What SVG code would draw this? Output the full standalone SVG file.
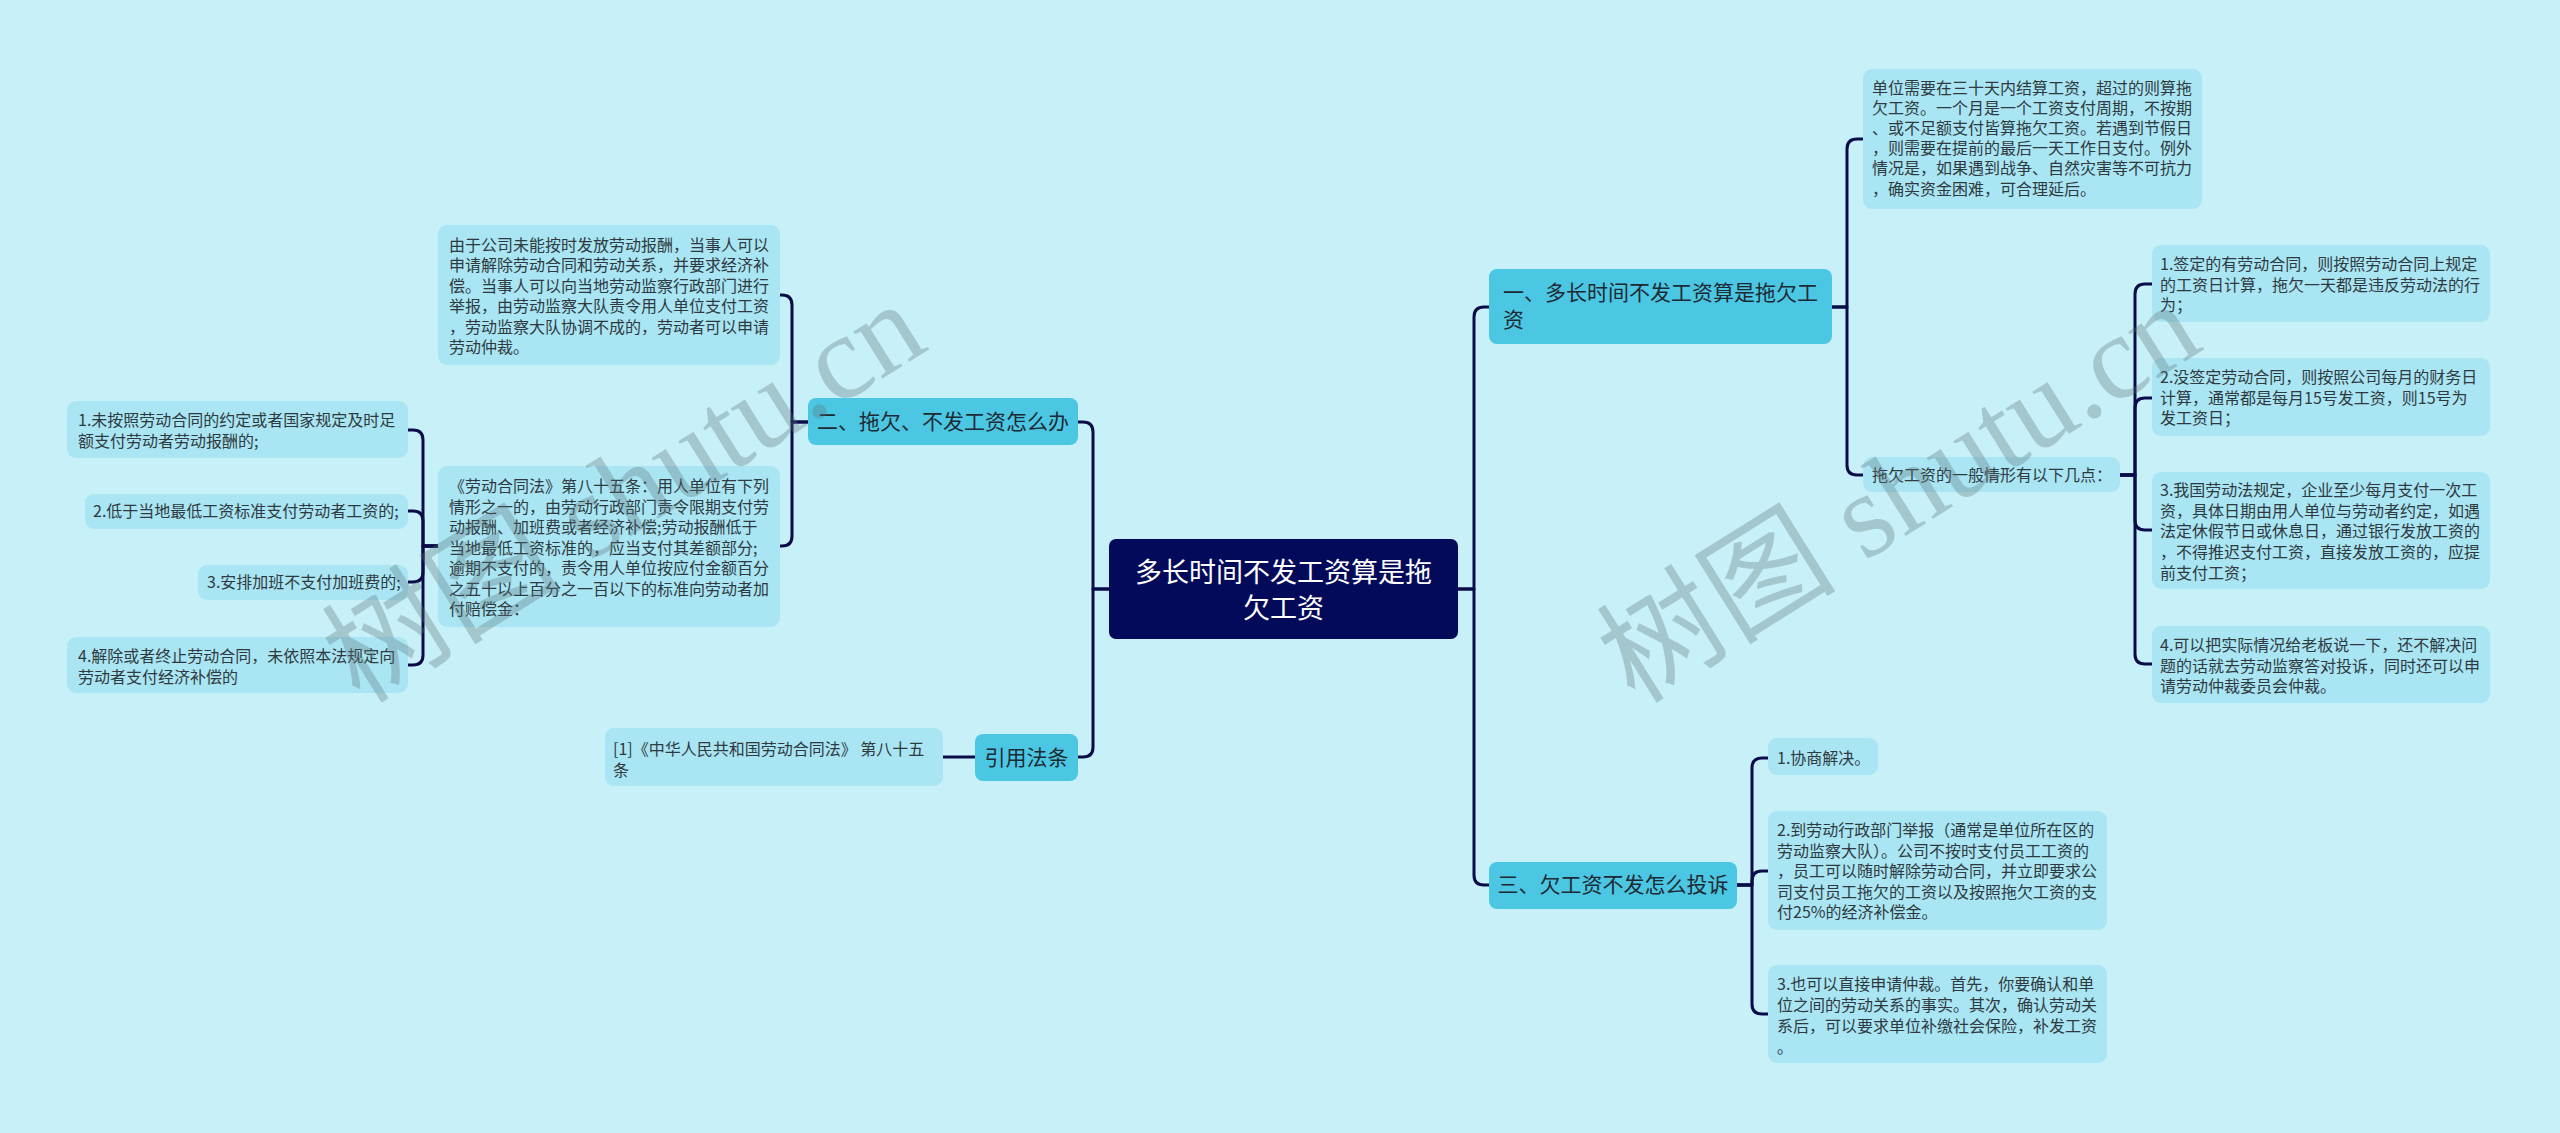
<svg xmlns="http://www.w3.org/2000/svg" width="2560" height="1133" viewBox="0 0 2560 1133">
<style>
.bg{fill:#c8f0f8}
.root{fill:#040a5a}
.l1{fill:#4bc7e3}
.l2{fill:#a9e5f3}
.rt{font-family:"Noto Sans CJK SC","Noto Sans",sans-serif;font-size:27px;fill:#ffffff}
.t1{font-family:"Noto Sans CJK SC","Noto Sans",sans-serif;font-size:21px;fill:#1e2a33}
.t2{font-family:"Noto Sans CJK SC","Noto Sans",sans-serif;font-size:16px;fill:#2f3a40}
.c{fill:none;stroke:#0a0c4a;stroke-width:3;stroke-linecap:round;stroke-linejoin:round}
.wm{font-family:"Liberation Serif","Noto Sans CJK SC",serif;font-size:120px;fill:#5a7378;opacity:0.32}
</style>
<rect class="bg" x="0" y="0" width="2560" height="1133"/>
<g id="connectors">
<path class="c" d="M1109,589 H1093 V432 Q1093,422 1083,422 H1078"/>
<path class="c" d="M1109,589 H1093 V747 Q1093,757 1083,757 H1078"/>
<path class="c" d="M1458,589 H1474 V317 Q1474,307 1484,307 H1489"/>
<path class="c" d="M1458,589 H1474 V875 Q1474,885 1484,885 H1489"/>
<path class="c" d="M1832,307 H1847 V149 Q1847,139 1857,139 H1863"/>
<path class="c" d="M1832,307 H1847 V465 Q1847,475 1857,475 H1863"/>
<path class="c" d="M2120,475 H2135 V294 Q2135,284 2145,284 H2152"/>
<path class="c" d="M2120,475 H2135 V408 Q2135,398 2145,398 H2152"/>
<path class="c" d="M2120,475 H2135 V520 Q2135,530 2145,530 H2152"/>
<path class="c" d="M2120,475 H2135 V654 Q2135,664 2145,664 H2152"/>
<path class="c" d="M1737,885 H1752 V768 Q1752,758 1762,758 H1768"/>
<path class="c" d="M1737,885 H1752 V881 Q1752,871 1762,871 H1768"/>
<path class="c" d="M1737,885 H1752 V1004 Q1752,1014 1762,1014 H1768"/>
<path class="c" d="M808,422 H792 V305 Q792,295 782,295 H780"/>
<path class="c" d="M808,422 H792 V536 Q792,546 782,546 H780"/>
<path class="c" d="M438,546 H423 V440 Q423,430 413,430 H408"/>
<path class="c" d="M438,546 H423 V521 Q423,511 413,511 H408"/>
<path class="c" d="M438,546 H423 V572 Q423,582 413,582 H408"/>
<path class="c" d="M438,546 H423 V655 Q423,665 413,665 H408"/>
<path class="c" d="M975,757 H943"/>
</g>
<g id="root">
<rect class="root" x="1109" y="539" width="349" height="100" rx="7"/>
<text class="rt" x="1283.5" y="582" text-anchor="middle">多长时间不发工资算是拖</text>
<text class="rt" x="1283.5" y="618" text-anchor="middle">欠工资</text>
</g>
<g id="n-er">
<rect class="l1" x="808" y="398" width="270" height="47" rx="8"/>
<text class="t1" x="943" y="429" text-anchor="middle">二、拖欠、不发工资怎么办</text>
</g>
<g id="n-yinyong">
<rect class="l1" x="975" y="734" width="103" height="47" rx="8"/>
<text class="t1" x="1026.5" y="765" text-anchor="middle">引用法条</text>
</g>
<g id="n-yi">
<rect class="l1" x="1489" y="269" width="343" height="75" rx="8"/>
<text class="t1" x="1503" y="300">一、多长时间不发工资算是拖欠工</text>
<text class="t1" x="1503" y="327">资</text>
</g>
<g id="n-san">
<rect class="l1" x="1489" y="862" width="248" height="47" rx="8"/>
<text class="t1" x="1613" y="892" text-anchor="middle">三、欠工资不发怎么投诉</text>
</g>
<g id="n-a">
<rect class="l2" x="438" y="225" width="342" height="140" rx="9"/>
<text class="t2" x="449" y="251">
<tspan x="449">由于公司未能按时发放劳动报酬，当事人可以</tspan>
<tspan x="449" dy="20.4">申请解除劳动合同和劳动关系，并要求经济补</tspan>
<tspan x="449" dy="20.4">偿。当事人可以向当地劳动监察行政部门进行</tspan>
<tspan x="449" dy="20.4">举报，由劳动监察大队责令用人单位支付工资</tspan>
<tspan x="449" dy="20.4">，劳动监察大队协调不成的，劳动者可以申请</tspan>
<tspan x="449" dy="20.4">劳动仲裁。</tspan>
</text>
</g>
<g id="n-b">
<rect class="l2" x="438" y="466" width="342" height="161" rx="9"/>
<text class="t2" x="449" y="492">
<tspan x="449">《劳动合同法》第八十五条：用人单位有下列</tspan>
<tspan x="449" dy="20.5">情形之一的，由劳动行政部门责令限期支付劳</tspan>
<tspan x="449" dy="20.5">动报酬、加班费或者经济补偿;劳动报酬低于</tspan>
<tspan x="449" dy="20.5">当地最低工资标准的，应当支付其差额部分;</tspan>
<tspan x="449" dy="20.5">逾期不支付的，责令用人单位按应付金额百分</tspan>
<tspan x="449" dy="20.5">之五十以上百分之一百以下的标准向劳动者加</tspan>
<tspan x="449" dy="20.5">付赔偿金：</tspan>
</text>
</g>
<g id="n-b1">
<rect class="l2" x="67" y="401" width="341" height="57" rx="9"/>
<text class="t2" x="78" y="426">
<tspan x="78">1.未按照劳动合同的约定或者国家规定及时足</tspan>
<tspan x="78" dy="20.5">额支付劳动者劳动报酬的;</tspan>
</text>
</g>
<g id="n-b2">
<rect class="l2" x="85" y="494" width="323" height="35" rx="9"/>
<text class="t2" x="93" y="517">2.低于当地最低工资标准支付劳动者工资的;</text>
</g>
<g id="n-b3">
<rect class="l2" x="198" y="565" width="210" height="35" rx="9"/>
<text class="t2" x="207" y="588">3.安排加班不支付加班费的;</text>
</g>
<g id="n-b4">
<rect class="l2" x="67" y="637" width="341" height="56" rx="9"/>
<text class="t2" x="78" y="662">
<tspan x="78">4.解除或者终止劳动合同，未依照本法规定向</tspan>
<tspan x="78" dy="20.5">劳动者支付经济补偿的</tspan>
</text>
</g>
<g id="n-ref">
<rect class="l2" x="605" y="728" width="338" height="58" rx="9"/>
<text class="t2" x="613" y="755">
<tspan x="613">[1]《中华人民共和国劳动合同法》 第八十五</tspan>
<tspan x="613" dy="20.5">条</tspan>
</text>
</g>
<g id="n-c">
<rect class="l2" x="1863" y="69" width="339" height="140" rx="9"/>
<text class="t2" x="1872" y="94">
<tspan x="1872">单位需要在三十天内结算工资，超过的则算拖</tspan>
<tspan x="1872" dy="20.1">欠工资。一个月是一个工资支付周期，不按期</tspan>
<tspan x="1872" dy="20.1">、或不足额支付皆算拖欠工资。若遇到节假日</tspan>
<tspan x="1872" dy="20.1">，则需要在提前的最后一天工作日支付。例外</tspan>
<tspan x="1872" dy="20.1">情况是，如果遇到战争、自然灾害等不可抗力</tspan>
<tspan x="1872" dy="20.1">，确实资金困难，可合理延后。</tspan>
</text>
</g>
<g id="n-tuoqian">
<rect class="l2" x="1863" y="457" width="257" height="35" rx="9"/>
<text class="t2" x="1872" y="481">拖欠工资的一般情形有以下几点：</text>
</g>
<g id="n-r1">
<rect class="l2" x="2152" y="245" width="338" height="77" rx="9"/>
<text class="t2" x="2160" y="270">
<tspan x="2160">1.签定的有劳动合同，则按照劳动合同上规定</tspan>
<tspan x="2160" dy="20.5">的工资日计算，拖欠一天都是违反劳动法的行</tspan>
<tspan x="2160" dy="20.5">为；</tspan>
</text>
</g>
<g id="n-r2">
<rect class="l2" x="2152" y="358" width="338" height="78" rx="9"/>
<text class="t2" x="2160" y="383">
<tspan x="2160">2.没签定劳动合同，则按照公司每月的财务日</tspan>
<tspan x="2160" dy="20.5">计算，通常都是每月15号发工资，则15号为</tspan>
<tspan x="2160" dy="20.5">发工资日；</tspan>
</text>
</g>
<g id="n-r3">
<rect class="l2" x="2152" y="472" width="338" height="117" rx="9"/>
<text class="t2" x="2160" y="496">
<tspan x="2160">3.我国劳动法规定，企业至少每月支付一次工</tspan>
<tspan x="2160" dy="20.7">资，具体日期由用人单位与劳动者约定，如遇</tspan>
<tspan x="2160" dy="20.7">法定休假节日或休息日，通过银行发放工资的</tspan>
<tspan x="2160" dy="20.7">，不得推迟支付工资，直接发放工资的，应提</tspan>
<tspan x="2160" dy="20.7">前支付工资；</tspan>
</text>
</g>
<g id="n-r4">
<rect class="l2" x="2152" y="626" width="338" height="77" rx="9"/>
<text class="t2" x="2160" y="651">
<tspan x="2160">4.可以把实际情况给老板说一下，还不解决问</tspan>
<tspan x="2160" dy="20.7">题的话就去劳动监察答对投诉，同时还可以申</tspan>
<tspan x="2160" dy="20.7">请劳动仲裁委员会仲裁。</tspan>
</text>
</g>
<g id="n-s1">
<rect class="l2" x="1768" y="738" width="110" height="37" rx="9"/>
<text class="t2" x="1777" y="764">1.协商解决。</text>
</g>
<g id="n-s2">
<rect class="l2" x="1768" y="811" width="339" height="119" rx="9"/>
<text class="t2" x="1777" y="836">
<tspan x="1777">2.到劳动行政部门举报（通常是单位所在区的</tspan>
<tspan x="1777" dy="20.5">劳动监察大队）。公司不按时支付员工工资的</tspan>
<tspan x="1777" dy="20.5">，员工可以随时解除劳动合同，并立即要求公</tspan>
<tspan x="1777" dy="20.5">司支付员工拖欠的工资以及按照拖欠工资的支</tspan>
<tspan x="1777" dy="20.5">付25%的经济补偿金。</tspan>
</text>
</g>
<g id="n-s3">
<rect class="l2" x="1768" y="965" width="339" height="98" rx="9"/>
<text class="t2" x="1777" y="990">
<tspan x="1777">3.也可以直接申请仲裁。首先，你要确认和单</tspan>
<tspan x="1777" dy="21">位之间的劳动关系的事实。其次，确认劳动关</tspan>
<tspan x="1777" dy="21">系后，可以要求单位补缴社会保险，补发工资</tspan>
<tspan x="1777" dy="21">。</tspan>
</text>
</g>
<g id="watermark">
<text class="wm" x="360" y="705" transform="rotate(-32 360 705)">树图 shutu.cn</text>
<text class="wm" x="1635" y="705" transform="rotate(-32 1635 705)">树图 shutu.cn</text>
</g>
</svg>
